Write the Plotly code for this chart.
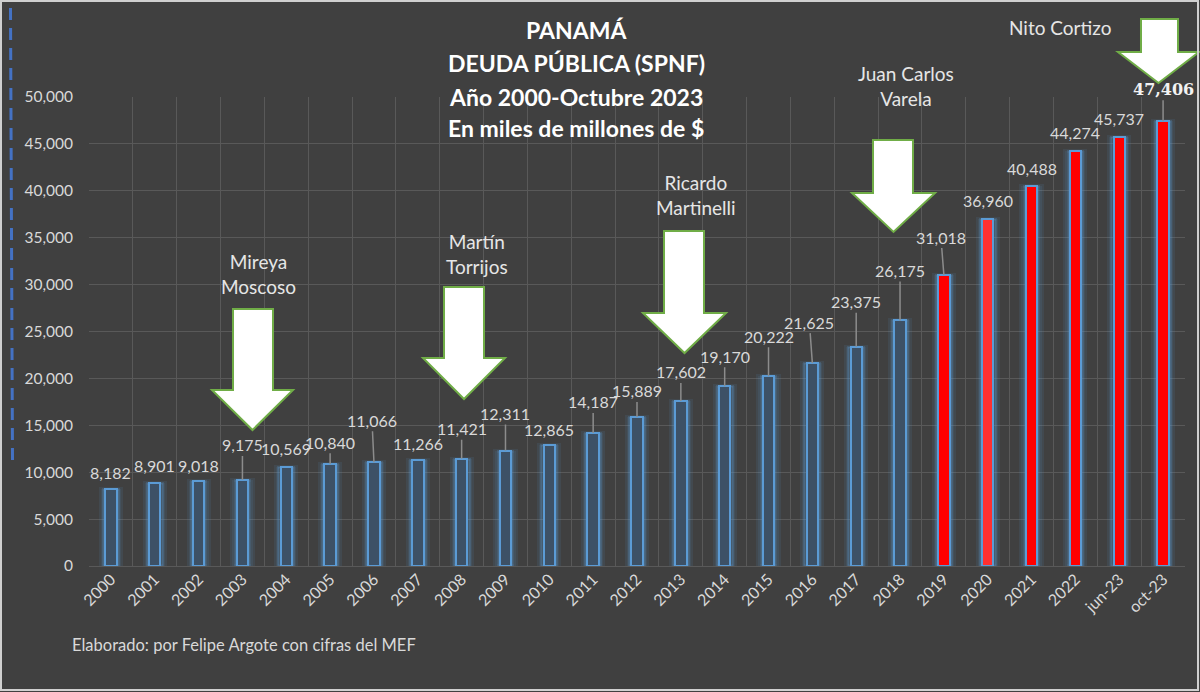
import plotly.graph_objects as go

# ---------------- data ----------------
categories = [str(y) for y in range(2000, 2023)] + ["jun-23", "oct-23"]
debt = [8182, 8901, 9018, 9175, 10569, 10840, 11066, 11266, 11421, 12311,
        12865, 14187, 15889, 17602, 19170, 20222, 21625, 23375, 26175, 31018,
        36960, 40488, 44274, 45737, 47406]
value_labels = ["8,182", "8,901", "9,018", "9,175", "10,569", "10,840", "11,066",
                "11,266", "11,421", "12,311", "12,865", "14,187", "15,889",
                "17,602", "19,170", "20,222", "21,625", "23,375", "26,175",
                "31,018", "36,960", "40,488", "44,274", "45,737", "47,406"]
y_tickvals = list(range(0, 50001, 5000))
y_ticktext = ["0", "5,000", "10,000", "15,000", "20,000", "25,000", "30,000",
              "35,000", "40,000", "45,000", "50,000"]
presidents = ["Mireya<br>Moscoso", "Martín<br>Torrijos", "Ricardo<br>Martinelli",
              "Juan Carlos<br>Varela", "Nito Cortizo"]

# ---------------- layout / style ----------------
W, H = 1200, 692
L, R, T, B = 89, 1185, 97, 566
PW, PH = R - L, B - T
BG = "#404040"
GRID = "#595959"
TXT = "#d9d9d9"
FONT = "Lato"
OUTLINE = "#5b9bd5"
BLUE_FILL = "#3d5166"
RED = "#ff0000"
first_red = 19
fill_colors = [BLUE_FILL if i < first_red else RED for i in range(len(categories))]
fill_colors[20] = "#ff3030"

# label offsets in pixels (dx, dy, leader line?)
label_offsets = [(0, -17, False), (0, -17, False), (0, -16, False), (0, -35, True),
                 (0, -18, False), (0, -22, True), (-2, -42, True), (0, -17, False),
                 (0, -30, True), (0, -37, True), (0, -16, False), (0, -31, True),
                 (0, -26, True), (0, -29, True), (0, -30, True), (0, -40, True),
                 (-3, -41, True), (0, -45, True), (0, -50, True), (-3, -38, True),
                 (0, -19, False), (0, -18, False), (0, -18, False), (0, -18, False),
                 (0, -32, True)]

# block arrows in pixels: shaft x0, shaft x1, top, head x0, head x1, head y, tip y
arrows = [(233, 273, 309, 212, 293, 390, 430),
          (444, 484, 287, 423, 505, 358, 399),
          (664, 704, 231, 643, 726, 313, 353),
          (873, 913, 140, 852, 935, 193, 232),
          (1141, 1178, 19, 1118, 1199, 52, 83)]
president_label_pos = [(258, 274), (477, 254), (696, 195), (906, 86), (1060, 27)]


def px_x(px):
    return (px - L) / PW


def px_y(py):
    return (B - py) / PH


fig = go.Figure()

# glow layers
fig.add_trace(go.Bar(x=categories, y=debt, width=0.46,
                     marker=dict(color="rgba(91,155,213,0.10)",
                                 line=dict(color="rgba(91,155,213,0.10)", width=4)),
                     hoverinfo="skip", showlegend=False))
fig.add_trace(go.Bar(x=categories, y=debt, width=0.36,
                     marker=dict(color="rgba(91,155,213,0.22)",
                                 line=dict(color="rgba(91,155,213,0.22)", width=2)),
                     hoverinfo="skip", showlegend=False))
# main bars
fig.add_trace(go.Bar(x=categories, y=debt, width=0.26,
                     marker=dict(color=fill_colors, line=dict(color=OUTLINE, width=2)),
                     showlegend=False))

annotations = []
# value labels (x given as category index)
for i, (v, lab) in enumerate(zip(debt, value_labels)):
    dx, dy, leader = label_offsets[i]
    last = i == len(categories) - 1
    annotations.append(dict(
        x=i, y=v, xref="x", yref="y", text=f"<b>{lab}</b>" if last else lab,
        showarrow=True, arrowhead=0, arrowwidth=1.5, standoff=0,
        arrowcolor="#8c8c8c" if leader else "rgba(0,0,0,0)",
        ax=dx, ay=dy, axref="pixel", ayref="pixel",
        font=dict(family="DejaVu Serif" if last else FONT,
                  size=16 if last else 16, color="#f2f2f2" if last else TXT)))

# president labels
for name, (lx, ly) in zip(presidents, president_label_pos):
    annotations.append(dict(x=px_x(lx), y=px_y(ly), xref="paper", yref="paper",
                            text=name, showarrow=False, xanchor="center",
                            yanchor="middle", font=dict(family=FONT, size=19, color="#e6e6e6")))

# title lines
title_lines = ["<b>PANAMÁ</b>", "<b>DEUDA PÚBLICA (SPNF)</b>",
               "<b>Año 2000-Octubre 2023</b>", "<b>En miles de millones de $</b>"]
for line, ly in zip(title_lines, [30, 63, 97, 128]):
    annotations.append(dict(x=px_x(576), y=px_y(ly), xref="paper", yref="paper",
                            text=line, showarrow=False, xanchor="center", yanchor="middle",
                            font=dict(family=FONT, size=23, color="#ffffff")))

# footer
annotations.append(dict(x=px_x(70), y=px_y(645), xref="paper", yref="paper",
                        text="Elaborado: por Felipe Argote con cifras del MEF",
                        showarrow=False, xanchor="left", yanchor="middle",
                        font=dict(family=FONT, size=16.5, color=TXT)))

shapes = []
for (sx0, sx1, top, hx0, hx1, hy, tip) in arrows:
    tx = (hx0 + hx1) / 2
    pts = [(sx0, top), (sx1, top), (sx1, hy), (hx1, hy), (tx, tip), (hx0, hy), (sx0, hy)]
    path = "M " + " L ".join(f"{px_x(a):.5f},{px_y(b):.5f}" for a, b in pts) + " Z"
    shapes.append(dict(type="path", path=path, xref="paper", yref="paper",
                       fillcolor="#ffffff", line=dict(color="#70ad47", width=2),
                       layer="above"))

# outer frame
shapes.append(dict(type="rect", xref="paper", yref="paper",
                   x0=px_x(1), x1=px_x(1198), y0=px_y(690), y1=px_y(1),
                   line=dict(color="#d0d0d0", width=2), fillcolor="rgba(0,0,0,0)",
                   layer="above"))
# left dashed blue line
shapes.append(dict(type="line", xref="paper", yref="paper",
                   x0=px_x(10.5), x1=px_x(12.5), y0=px_y(8), y1=px_y(460),
                   line=dict(color="#4472c4", width=3, dash="12px,8px")))

fig.update_layout(
    width=W, height=H,
    margin=dict(l=L, r=W - R, t=T, b=H - B, pad=0),
    paper_bgcolor=BG, plot_bgcolor=BG,
    barmode="overlay", bargap=0,
    font=dict(family=FONT, color=TXT),
    annotations=annotations, shapes=shapes,
    xaxis=dict(type="category", categoryorder="array", categoryarray=categories,
               range=[-0.5, len(categories) - 0.5], autorange=False,
               tickangle=-45, tickson="boundaries",
               showgrid=True, gridcolor=GRID, gridwidth=1, ticks="",
               tickfont=dict(family=FONT, size=16, color=TXT),
               showline=False, zeroline=False, fixedrange=True),
    yaxis=dict(range=[0, 50000], autorange=False, tickvals=y_tickvals, ticktext=y_ticktext,
               showgrid=True, gridcolor=GRID, gridwidth=1, zeroline=True,
               zerolinecolor=GRID, zerolinewidth=1,
               ticks="outside", ticklen=12, tickcolor="rgba(0,0,0,0)",
               tickfont=dict(family=FONT, size=15.5, color=TXT),
               showline=False, fixedrange=True),
)

fig.write_html("out.html")
